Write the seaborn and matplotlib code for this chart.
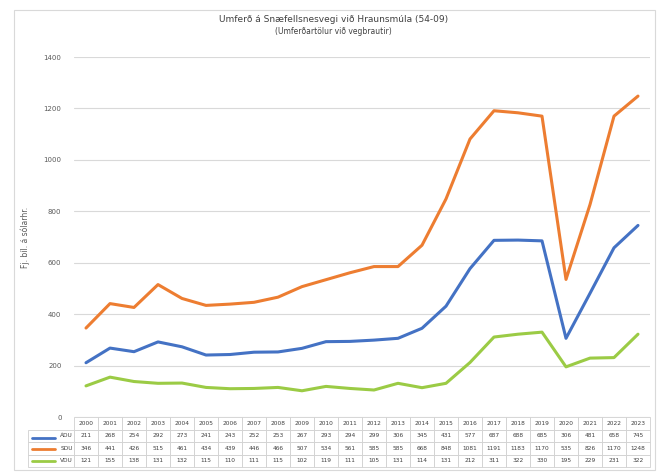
import matplotlib
matplotlib.use("Agg")
import matplotlib.pyplot as plt
import numpy as np
import pandas as pd
import seaborn as sns

# === Gögn ===
years = [str(y) for y in range(2000, 2024)]
adu = [211, 268, 254, 292, 273, 241, 243, 252, 253, 267, 293, 294,
       299, 306, 345, 431, 577, 687, 688, 685, 306, 481, 658, 745]
sdu = [346, 441, 426, 515, 461, 434, 439, 446, 466, 507, 534, 561,
       585, 585, 668, 848, 1081, 1191, 1183, 1170, 535, 826, 1170, 1248]
vdu = [121, 155, 138, 131, 132, 115, 110, 111, 115, 102, 119, 111,
       105, 131, 114, 131, 212, 311, 322, 330, 195, 229, 231, 322]
series_names = ["ÁDU", "SDU", "VDU"]
colors = ["#4472C4", "#ED7D31", "#9BCB45"]

df = pd.DataFrame({"year": years, "ÁDU": adu, "SDU": sdu, "VDU": vdu})
df["pos"] = np.arange(len(years))
long_df = df.melt(id_vars=["year", "pos"], value_vars=series_names,
                  var_name="series", value_name="value")

sns.set_theme(style="white")
plt.rcParams["font.family"] = ["DejaVu Sans"]

fig = plt.figure(figsize=(6.67, 4.75), dpi=100)
W, H = 667, 475
ax = fig.add_axes([74 / W, 1 - 417 / H, 576 / W, 360 / H])

sns.lineplot(data=long_df, x="pos", y="value", hue="series",
             palette=dict(zip(series_names, colors)), linewidth=2.2,
             legend=False, ax=ax)

ax.set_xlim(-0.5, len(years) - 0.5)
ax.set_ylim(0, 1400)
ax.set_yticks(range(0, 1401, 200))
ax.yaxis.grid(True, color="#d9d9d9", linewidth=0.8)
ax.set_xticks([])
ax.set_xlabel("")
ax.set_ylabel("Fj. bíl. á sólarhr.", fontsize=5.5, color="#595959", labelpad=10)
ax.tick_params(axis="y", labelsize=5, colors="#595959", length=0, pad=9)
for s in ax.spines.values():
    s.set_visible(False)

# === Gagnatafla ===
header = [""] + years
cell_text = [[name] + [str(v) for v in vals]
             for name, vals in zip(series_names, [adu, sdu, vdu])]
col_w = [46] + [24] * len(years)
tab = ax.table(cellText=cell_text, colLabels=header, colWidths=col_w,
               cellLoc="center",
               bbox=[-46 / 576, -50 / 360, 622 / 576, 50 / 360])
tab.auto_set_font_size(False)
tab.set_fontsize(4.2)
for (r, c), cell in tab.get_celld().items():
    cell.set_edgecolor("#d0d0d0")
    cell.set_linewidth(0.6)
    cell.get_text().set_color("#404040")
    if c == 0:
        cell.get_text().set_ha("right")
        cell.PAD = 0.02
    if r == 0 and c == 0:
        cell.set_edgecolor("white")

# legend keys i töflunni
key_y = [438, 449, 461]
for y, col in zip(key_y, colors):
    fig.add_artist(plt.Line2D([32 / W, 55 / W], [1 - y / H, 1 - y / H],
                              color=col, linewidth=2.0))

# === Titill og rammi ===
fig.text(0.5, 1 - 20 / H, "Umferð á Snæfellsnesvegi við Hraunsmúla (54-09)",
         ha="center", va="center", fontsize=6.5, color="#404040")
fig.text(0.5, 1 - 32 / H, "(Umferðartölur við vegbrautir)",
         ha="center", va="center", fontsize=5.5, color="#404040")
fig.add_artist(plt.Rectangle((14 / W, 1 - 470 / H), 641 / W, 460 / H,
                             fill=False, edgecolor="#d9d9d9", linewidth=0.8))

fig.savefig("out.png", dpi=100)
